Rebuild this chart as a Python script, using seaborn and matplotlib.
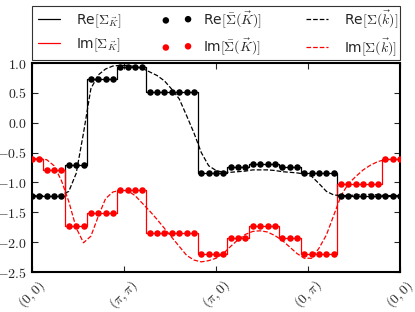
import numpy as np
import pandas as pd
import matplotlib
matplotlib.use("Agg")
import matplotlib.pyplot as plt
import seaborn as sns

# k-path grid: (0,0) -> (pi,pi) -> (pi,0) -> (0,pi) -> (0,0), 51 points
k = np.linspace(0, 4, 51)

# cluster self-energy sampled on the path (dots / step line)
re_K = [-1.22] * 5 + [-0.70] * 3 + [0.73] * 4 + [0.93] * 4 + [0.51] * 7 + \
       [-0.84] * 4 + [-0.74] * 3 + [-0.69] * 4 + [-0.74] * 3 + [-0.84] * 5 + [-1.22] * 9
im_K = [-0.61] * 2 + [-0.80] * 3 + [-1.73] * 3 + [-1.52] * 4 + [-1.13] * 4 + [-1.84] * 7 + \
       [-2.20] * 4 + [-1.93] * 3 + [-1.73] * 4 + [-1.93] * 3 + [-2.20] * 5 + [-1.02] * 6 + [-0.61] * 3

# lattice self-energy (dashed)
re_k = [-1.22, -1.22, -1.22, -1.22, -1.21, -1.15, -0.85, -0.17, 0.57, 0.80,
        0.90, 0.95, 0.96, 0.96, 0.94, 0.91, 0.85, 0.79, 0.70, 0.56,
        0.40, 0.12, -0.17, -0.50, -0.72, -0.80, -0.83, -0.83, -0.82, -0.81,
        -0.79, -0.79, -0.79, -0.80, -0.82, -0.83, -0.84, -0.86, -0.90, -1.02,
        -1.15, -1.21, -1.22, -1.22, -1.21, -1.20, -1.20, -1.21, -1.22, -1.22, -1.22]
im_k = [-0.60, -0.60, -0.62, -0.72, -0.97, -1.32, -1.76, -2.01, -1.90, -1.57,
        -1.27, -1.16, -1.13, -1.14, -1.22, -1.35, -1.48, -1.62, -1.77, -1.92,
        -2.07, -2.22, -2.30, -2.33, -2.31, -2.27, -2.19, -2.07, -1.96, -1.87,
        -1.82, -1.81, -1.83, -1.89, -1.97, -2.08, -2.19, -2.27, -2.27, -2.10,
        -1.88, -1.55, -1.22, -1.02, -0.90, -0.79, -0.71, -0.65, -0.62, -0.61, -0.61]

tick_pos = [0, 1, 2, 3, 4]
tick_lab = [r'$(0,0)$', r'$(\pi,\pi)$', r'$(\pi,0)$', r'$(0,\pi)$', r'$(0,0)$']
yticks = [-2.5, -2.0, -1.5, -1.0, -0.5, 0.0, 0.5, 1.0]

df = pd.DataFrame({"k": k, "re_K": re_K, "im_K": im_K, "re_k": re_k, "im_k": im_k})

sns.set_style("ticks")
plt.rcParams['font.family'] = ['DejaVu Sans']
plt.rcParams['mathtext.fontset'] = 'cm'

fig = plt.figure(figsize=(4.15, 3.12), dpi=100)
ax = fig.add_axes([32 / 415, 40 / 312, 368 / 415, 209 / 312])

sns.lineplot(data=df, x="k", y="re_K", color="black", lw=0.9, drawstyle="steps-mid",
             label=r'Re$[\Sigma_{\vec{K}}]$', ax=ax)
sns.lineplot(data=df, x="k", y="im_K", color="red", lw=0.9, drawstyle="steps-mid",
             label=r'Im$[\Sigma_{\vec{K}}]$', ax=ax)
sns.scatterplot(data=df, x="k", y="re_K", color="black", s=22, linewidth=0, zorder=3,
                label=r'Re$[\bar{\Sigma}(\vec{K})]$', ax=ax)
sns.scatterplot(data=df, x="k", y="im_K", color="red", s=22, linewidth=0, zorder=3,
                label=r'Im$[\bar{\Sigma}(\vec{K})]$', ax=ax)
sns.lineplot(data=df, x="k", y="re_k", color="black", lw=0.9, linestyle="--",
             label=r'Re$[\Sigma(\vec{k})]$', ax=ax)
sns.lineplot(data=df, x="k", y="im_k", color="red", lw=0.9, linestyle="--",
             label=r'Im$[\Sigma(\vec{k})]$', ax=ax)

ax.set_xlim(0, 4)
ax.set_ylim(-2.5, 1.0)
ax.set_xticks(tick_pos)
ax.set_xticklabels(tick_lab, rotation=45, fontsize=10)
ax.set_yticks(yticks)
ax.set_yticklabels([r'$%.1f$' % v for v in yticks], fontsize=10)
ax.set_xlabel("")
ax.set_ylabel("")
ax.tick_params(direction="in", top=True, right=True, length=4, width=0.8)
for s in ax.spines.values():
    s.set_linewidth(1.5)
    s.set_color("black")

leg = ax.legend(loc="lower left", bbox_to_anchor=(0, 1 + 3 / 209, 1, 0.2), mode="expand", ncol=3,
                numpoints=2, scatterpoints=2, fontsize=10, frameon=True, fancybox=False,
                edgecolor="black", borderaxespad=0, handlelength=2.2,
                labelspacing=0.45, borderpad=0.15)
leg.get_frame().set_linewidth(0.8)

plt.savefig("out.png", dpi=100)
